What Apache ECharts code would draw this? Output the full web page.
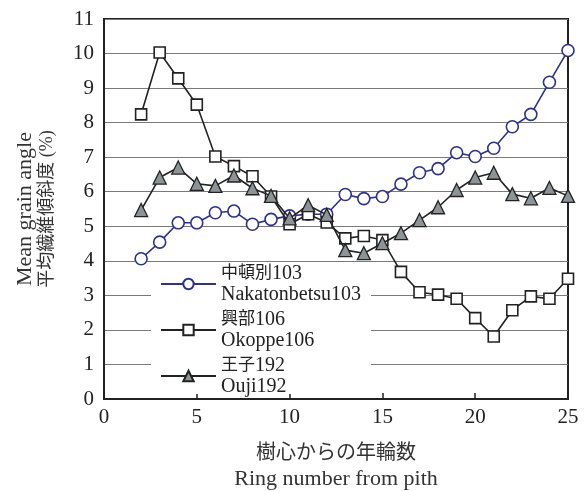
<!DOCTYPE html>
<html lang="ja">
	<head>
		<meta charset="utf-8" />
		<title>Mean grain angle</title>
		<style>
			html, body { margin: 0; padding: 0; background: #fff; }
		</style>
	</head>
	<body>
		<div id="main" style="width: 586px; height: 491px;"></div>

		<script src="https://cdn.jsdelivr.net/npm/echarts@6/dist/echarts.min.js"></script>
		<script type="text/javascript">
			// 樹心からの年輪数
			const rings = [2, 3, 4, 5, 6, 7, 8, 9, 10, 11, 12, 13, 14, 15, 16, 17, 18, 19, 20, 21, 22, 23, 24, 25];
			// 平均繊維傾斜度 (%)
			const nakatonbetsu = [4.06, 4.54, 5.10, 5.10, 5.39, 5.44, 5.06, 5.20, 5.30, 5.35, 5.35, 5.92, 5.80, 5.86, 6.22, 6.55, 6.67, 7.13, 7.02, 7.26, 7.88, 8.24, 9.17, 10.09];
			const okoppe = [8.24, 10.03, 9.28, 8.52, 7.02, 6.74, 6.45, 5.86, 5.06, 5.35, 5.11, 4.65, 4.72, 4.60, 3.68, 3.09, 3.02, 2.90, 2.34, 1.81, 2.57, 2.97, 2.90, 3.48];
			const ouji = [5.47, 6.41, 6.70, 6.23, 6.17, 6.47, 6.10, 5.88, 5.23, 5.61, 5.33, 4.31, 4.22, 4.51, 4.80, 5.18, 5.55, 6.05, 6.41, 6.55, 5.93, 5.81, 6.11, 5.88];
			const seriesNames = ['中頓別103\nNakatonbetsu103', '興部106\nOkoppe106', '王子192\nOuji192'];

			const font = "'Liberation Serif', 'Noto Sans CJK JP', serif";
			const pairs = (ys) => rings.map((x, i) => [x, ys[i]]);

			// 凡例: 漢字部分だけ少し小さく
			function legendLabel(name) {
				const [jp, en] = name.split('\n');
				const m = jp.match(/^(\D+)(\d+)$/);
				return '{c|' + m[1] + '}{e|' + m[2] + '}\n{e|' + en + '}';
			}

			const chart = echarts.init(document.getElementById('main'));

			const option = {
				animation: false,
				textStyle: { fontFamily: font, color: '#222' },
				grid: {
					left: 104, right: 18, top: 19, bottom: 92,
					outerBoundsMode: 'none',
					show: true, borderColor: '#222', borderWidth: 2, backgroundColor: 'transparent',
				},
				legend: {
					orient: 'vertical',
					left: 151,
					top: 263,
					padding: [0, 10, -3, 9],
					itemGap: 4,
					itemWidth: 55,
					itemHeight: 13,
					backgroundColor: '#fff',
					formatter: legendLabel,
					textStyle: {
						fontFamily: font,
						fontSize: 20,
						lineHeight: 21,
						color: '#222',
						rich: {
							c: { fontFamily: font, fontSize: 17, lineHeight: 21, color: '#222' },
							e: { fontFamily: font, fontSize: 20, lineHeight: 21, color: '#222' },
						},
					},
					data: seriesNames,
				},
				xAxis: {
					type: 'value',
					min: 0,
					max: 25,
					interval: 5,
					name: '{cjk|樹心からの年輪数}\n{en|Ring number from pith}',
					nameLocation: 'middle',
					nameGap: 43,
					nameTextStyle: {
						color: '#333',
						rich: {
							cjk: { fontFamily: font, fontSize: 20, lineHeight: 24, color: '#333' },
							en: { fontFamily: font, fontSize: 22, lineHeight: 26, color: '#333' },
						},
					},
					axisLine: { lineStyle: { color: '#222', width: 2 } },
					axisTick: { inside: true, length: 6, lineStyle: { color: '#222', width: 1.5 } },
					axisLabel: { fontFamily: font, fontSize: 21, color: '#222', margin: 8 },
					splitLine: { show: false },
				},
				yAxis: {
					type: 'value',
					min: 0,
					max: 11,
					interval: 1,
					name: '{en|Mean grain angle}\n{cjk|平均繊維傾斜度 (%)}',
					nameLocation: 'middle',
					nameRotate: 90,
					nameGap: 47,
					nameTextStyle: {
						color: '#333',
						rich: {
							en: { fontFamily: font, fontSize: 22, lineHeight: 24, color: '#333' },
							cjk: { fontFamily: font, fontSize: 18, lineHeight: 20, color: '#333' },
						},
					},
					axisLine: { show: true, lineStyle: { color: '#222', width: 2 } },
					axisTick: { show: false },
					axisLabel: { fontFamily: font, fontSize: 21, color: '#222', margin: 10 },
					splitLine: { lineStyle: { color: '#7a7a7a', width: 1 } },
				},
				series: [
					{
						name: seriesNames[0],
						type: 'line',
						data: pairs(nakatonbetsu),
						symbol: 'circle',
						symbolSize: 12,
						lineStyle: { color: '#2e3192', width: 1.6 },
						itemStyle: { color: '#fff', borderColor: '#2e3192', borderWidth: 1.6 },
						z: 2,
					},
					{
						name: seriesNames[1],
						type: 'line',
						data: pairs(okoppe),
						symbol: 'rect',
						symbolSize: 11,
						lineStyle: { color: '#222', width: 1.6 },
						itemStyle: { color: '#fff', borderColor: '#222', borderWidth: 1.6 },
						z: 3,
					},
					{
						name: seriesNames[2],
						type: 'line',
						data: pairs(ouji),
						symbol: 'triangle',
						symbolSize: 13,
						lineStyle: { color: '#222', width: 1.6 },
						itemStyle: { color: '#8c9497', borderColor: '#222', borderWidth: 1.3 },
						z: 4,
					},
				],
			};

			chart.setOption(option);
		</script>
	</body>
</html>
